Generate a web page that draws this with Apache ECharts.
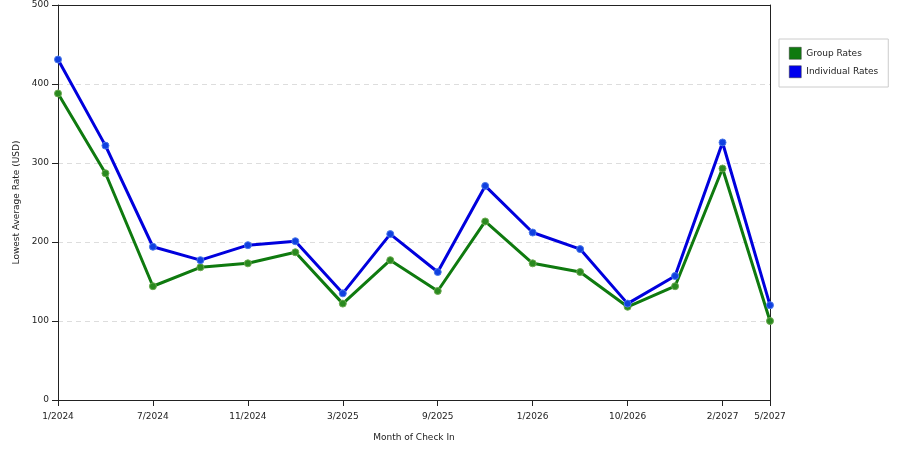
<!DOCTYPE html>
<html>
<head>
<meta charset="utf-8">
<script src="https://cdn.jsdelivr.net/npm/echarts@6/dist/echarts.min.js"></script>
<style>
  html, body { margin: 0; padding: 0; background: #fff; }
  #chart { width: 900px; height: 450px; }
</style>
</head>
<body>
<div id="chart"></div>
<script>
// months of check in (only every other one gets a label, plus the last)
var months = ['1/2024', '4/2024', '7/2024', '9/2024', '11/2024', '1/2025', '3/2025', '6/2025',
              '9/2025', '11/2025', '1/2026', '5/2026', '10/2026', '12/2026', '2/2027', '5/2027'];
var groupRates = [388, 287, 144, 168, 173, 187, 122, 177, 138, 226, 173, 162, 118, 144, 293, 100];
var individualRates = [431, 322, 194, 177, 196, 201, 135, 210, 162, 271, 212, 191, 122, 157, 326, 120];
var yTicks = [0, 100, 200, 300, 400, 500];

var font = 'DejaVu Sans';
var showTick = function (i) { return i % 2 === 0 || i === months.length - 1; };

var chart = echarts.init(document.getElementById('chart'));

var option = {
    animation: false,
    textStyle: { fontFamily: font },
    grid: { left: 58, right: 130, top: 5, bottom: 50 },
    legend: {
        orient: 'vertical',
        left: 779, top: 39,
        padding: [8, 10, 9, 10],
        itemGap: 6,
        itemWidth: 12, itemHeight: 12,
        borderColor: '#ccc', borderWidth: 1,
        icon: 'rect',
        textStyle: { fontSize: 9, color: '#222', fontFamily: font },
        data: [
            { name: 'Group Rates', itemStyle: { color: '#0f7a0f', borderColor: '#333', borderWidth: 0.5 } },
            { name: 'Individual Rates', itemStyle: { color: '#0000ee', borderColor: '#333', borderWidth: 0.5 } }
        ]
    },
    xAxis: [
        {
            type: 'category',
            data: months,
            boundaryGap: false,
            name: 'Month of Check In',
            nameLocation: 'middle',
            nameGap: 33,
            nameTextStyle: { fontSize: 9, color: '#222' },
            axisLine: { lineStyle: { color: '#222' } },
            axisTick: { length: 6, interval: function (i) { return showTick(i); }, lineStyle: { color: '#222' } },
            axisLabel: { fontSize: 9, color: '#222', margin: 12, interval: function (i) { return showTick(i); } }
        },
        {
            // frame line along the top
            type: 'category',
            position: 'top',
            data: months,
            boundaryGap: false,
            axisLine: { show: true, onZero: false, lineStyle: { color: '#222' } },
            axisTick: { show: false },
            axisLabel: { show: false },
            splitLine: { show: false }
        }
    ],
    yAxis: [
        {
            type: 'value',
            min: yTicks[0],
            max: yTicks[yTicks.length - 1],
            interval: 100,
            name: 'Lowest Average Rate (USD)',
            nameLocation: 'middle',
            nameGap: 36,
            nameTextStyle: { fontSize: 9, color: '#222' },
            axisLine: { show: true, lineStyle: { color: '#222' } },
            axisTick: { show: true, length: 6, lineStyle: { color: '#222' } },
            axisLabel: { fontSize: 9, color: '#222', margin: 9 },
            splitLine: { lineStyle: { color: '#ddd', type: [5, 4] } }
        },
        {
            // frame line along the right
            type: 'value',
            position: 'right',
            min: yTicks[0],
            max: yTicks[yTicks.length - 1],
            interval: 100,
            axisLine: { show: true, onZero: false, lineStyle: { color: '#222' } },
            axisTick: { show: false },
            axisLabel: { show: false },
            splitLine: { show: false }
        }
    ],
    series: [
        {
            name: 'Group Rates',
            type: 'line',
            data: groupRates,
            symbol: 'circle',
            symbolSize: 7,
            lineStyle: { width: 3, color: '#0f7a0f' },
            itemStyle: { color: '#2a8a1f', borderColor: '#6aa84f', borderWidth: 1 }
        },
        {
            name: 'Individual Rates',
            type: 'line',
            data: individualRates,
            symbol: 'circle',
            symbolSize: 7,
            lineStyle: { width: 3, color: '#0000dd' },
            itemStyle: { color: '#1040e0', borderColor: '#4a78e8', borderWidth: 1 }
        }
    ]
};

chart.setOption(option);
</script>
</body>
</html>
